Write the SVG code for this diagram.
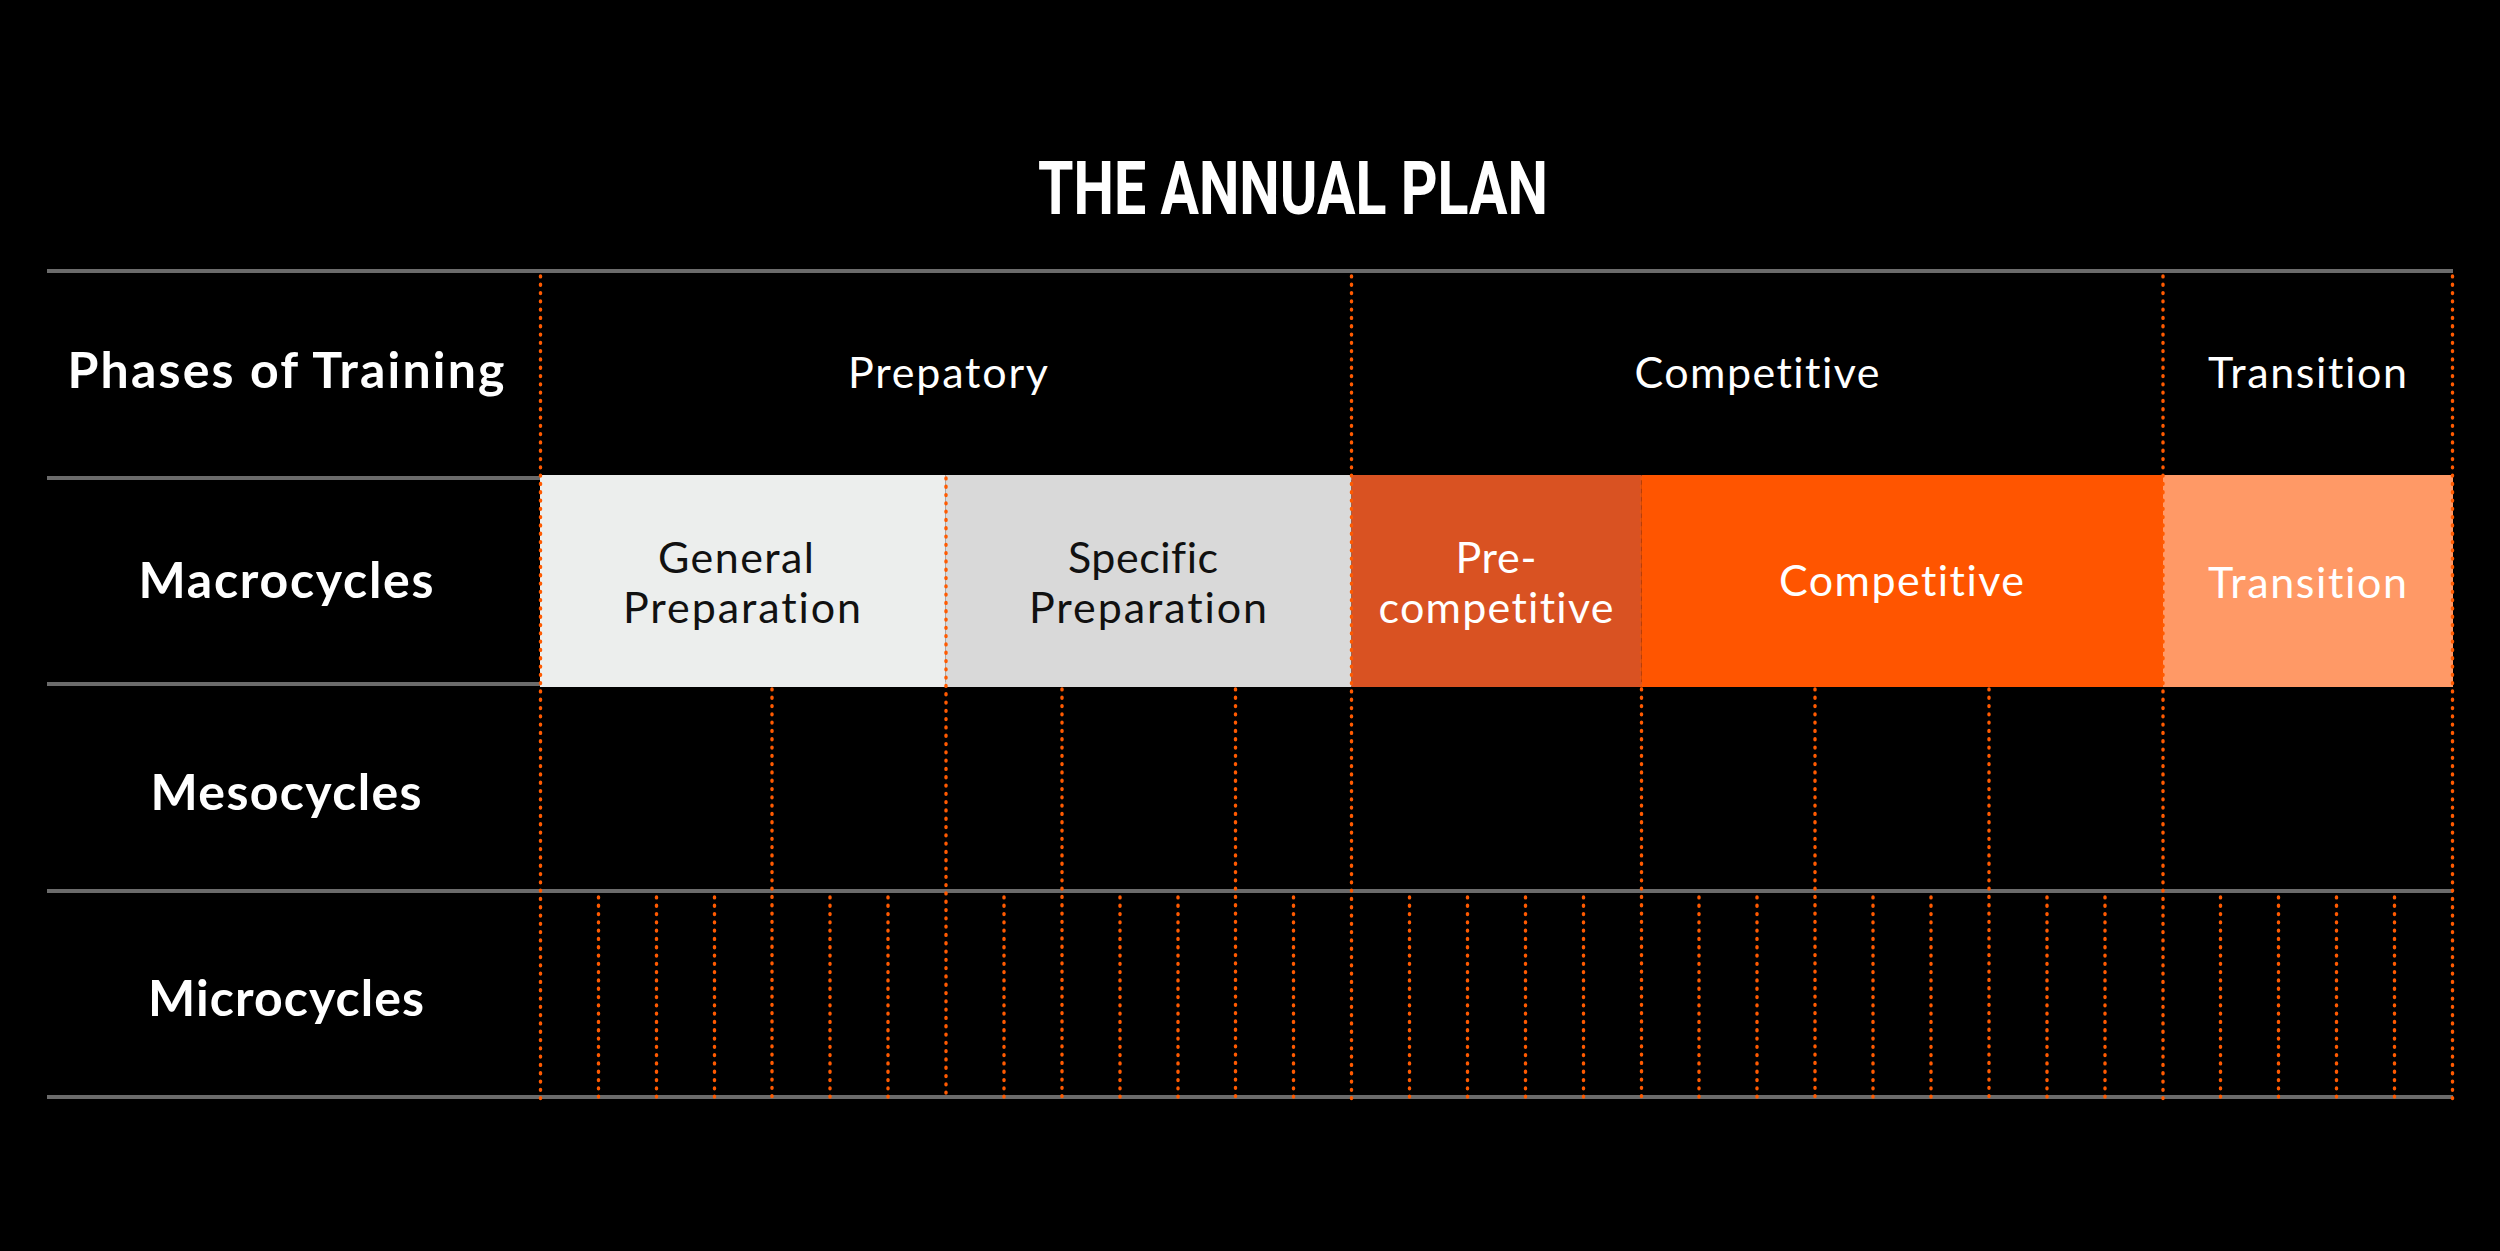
<svg xmlns="http://www.w3.org/2000/svg" width="2500" height="1251" viewBox="0 0 2500 1251">
<style>
.rule{stroke:#6b6b6b;stroke-width:4;fill:none}
.dot{stroke:#ff5a00;stroke-width:3.4;stroke-dasharray:0.9 7.4;stroke-linecap:round;fill:none}
.faint{opacity:0.45}
.title{font-family:Roboto,"Liberation Sans",sans-serif;font-weight:700;font-size:75px;fill:#fff;text-anchor:middle}
.lbl{font-family:Lato,"Noto Sans",sans-serif;font-weight:700;font-size:50px;fill:#fff;text-anchor:middle;font-variant-ligatures:none}
.txt{font-family:Lato,"Noto Sans",sans-serif;font-weight:400;font-size:43px;fill:#fff;text-anchor:middle;font-variant-ligatures:none}
.dark{fill:#111}
</style>
<rect x="0" y="0" width="2500" height="1251" fill="#000"/>
<text id="title" class="title" x="1293" y="214" textLength="510" lengthAdjust="spacingAndGlyphs">THE ANNUAL PLAN</text>

<g id="rules">
<line class="rule" x1="47" y1="271" x2="2453" y2="271"/>
<line class="rule" x1="47" y1="478" x2="2453" y2="478"/>
<line class="rule" x1="47" y1="684" x2="2453" y2="684"/>
<line class="rule" x1="47" y1="891" x2="2453" y2="891"/>
<line class="rule" x1="47" y1="1097" x2="2453" y2="1097"/>
</g>

<g id="macro-general"><rect x="540" y="475" width="405.5" height="212" fill="#eceeed"/>
<text class="txt dark" x="736" y="573" textLength="156" lengthAdjust="spacing">General</text>
<text class="txt dark" x="742" y="623" textLength="238" lengthAdjust="spacing">Preparation</text></g>
<g id="macro-specific"><rect x="945.5" y="475" width="406" height="212" fill="#d9d9d9"/>
<text class="txt dark" x="1143" y="573" textLength="150" lengthAdjust="spacing">Specific</text>
<text class="txt dark" x="1148" y="623" textLength="238" lengthAdjust="spacing">Preparation</text></g>
<g id="macro-precompetitive"><rect x="1351.5" y="475" width="290" height="212" fill="#d95222"/>
<text class="txt" x="1496" y="573" textLength="81" lengthAdjust="spacing">Pre-</text>
<text class="txt" x="1496" y="623" textLength="235" lengthAdjust="spacing">competitive</text></g>
<g id="macro-competitive"><rect x="1641.5" y="475" width="521.5" height="212" fill="#ff5500"/>
<text class="txt" x="1901.5" y="596" textLength="245" lengthAdjust="spacing">Competitive</text></g>
<g id="macro-transition"><rect x="2163" y="475" width="290" height="212" fill="#ff9966"/>
<text class="txt" x="2307.5" y="598" textLength="199" lengthAdjust="spacing">Transition</text></g>

<g id="connectors">
<g id="phase-lines">
<line class="dot" x1="540.5" y1="276" x2="540.5" y2="1099"/>
<line class="dot" x1="1351.5" y1="276" x2="1351.5" y2="1099"/>
<line class="dot" x1="2163" y1="276" x2="2163" y2="1099"/>
<line class="dot" x1="2452.5" y1="276" x2="2452.5" y2="1099"/>
</g>
<g id="macro-lines">
<line class="dot" x1="946" y1="478" x2="946" y2="1099"/>
<line class="dot faint" x1="1641.5" y1="478" x2="1641.5" y2="687"/>
<line class="dot" x1="1641.5" y1="689" x2="1641.5" y2="1099"/>
</g>
<g id="meso-lines">
<line class="dot" x1="772" y1="689" x2="772" y2="1099"/>
<line class="dot" x1="1062" y1="689" x2="1062" y2="1099"/>
<line class="dot" x1="1235.5" y1="689" x2="1235.5" y2="1099"/>
<line class="dot" x1="1815" y1="689" x2="1815" y2="1099"/>
<line class="dot" x1="1989" y1="689" x2="1989" y2="1099"/>
</g>
<g id="micro-lines">
<line class="dot" x1="598.5" y1="897" x2="598.5" y2="1099"/>
<line class="dot" x1="656.5" y1="897" x2="656.5" y2="1099"/>
<line class="dot" x1="714.5" y1="897" x2="714.5" y2="1099"/>
<line class="dot" x1="830" y1="897" x2="830" y2="1099"/>
<line class="dot" x1="888" y1="897" x2="888" y2="1099"/>
<line class="dot" x1="1004" y1="897" x2="1004" y2="1099"/>
<line class="dot" x1="1120" y1="897" x2="1120" y2="1099"/>
<line class="dot" x1="1178" y1="897" x2="1178" y2="1099"/>
<line class="dot" x1="1293.5" y1="897" x2="1293.5" y2="1099"/>
<line class="dot" x1="1409.5" y1="897" x2="1409.5" y2="1099"/>
<line class="dot" x1="1467.5" y1="897" x2="1467.5" y2="1099"/>
<line class="dot" x1="1525.5" y1="897" x2="1525.5" y2="1099"/>
<line class="dot" x1="1583.5" y1="897" x2="1583.5" y2="1099"/>
<line class="dot" x1="1699" y1="897" x2="1699" y2="1099"/>
<line class="dot" x1="1757" y1="897" x2="1757" y2="1099"/>
<line class="dot" x1="1873" y1="897" x2="1873" y2="1099"/>
<line class="dot" x1="1931" y1="897" x2="1931" y2="1099"/>
<line class="dot" x1="2047" y1="897" x2="2047" y2="1099"/>
<line class="dot" x1="2105" y1="897" x2="2105" y2="1099"/>
<line class="dot" x1="2220.5" y1="897" x2="2220.5" y2="1099"/>
<line class="dot" x1="2278.5" y1="897" x2="2278.5" y2="1099"/>
<line class="dot" x1="2336.5" y1="897" x2="2336.5" y2="1099"/>
<line class="dot" x1="2394.5" y1="897" x2="2394.5" y2="1099"/>
</g>
</g>

<g id="label-phases"><text class="lbl" x="286" y="388" textLength="437" lengthAdjust="spacing">Phases of Training</text></g>
<g id="label-macro"><text class="lbl" x="286" y="598" textLength="295" lengthAdjust="spacing">Macrocycles</text></g>
<g id="label-meso"><text class="lbl" x="286" y="810" textLength="271" lengthAdjust="spacing">Mesocycles</text></g>
<g id="label-micro"><text class="lbl" x="286" y="1016" textLength="276" lengthAdjust="spacing">Microcycles</text></g>

<g id="phase-prepatory"><text class="txt" x="948" y="388" textLength="200" lengthAdjust="spacing">Prepatory</text></g>
<g id="phase-competitive"><text class="txt" x="1757" y="388" textLength="245" lengthAdjust="spacing">Competitive</text></g>
<g id="phase-transition"><text class="txt" x="2307.5" y="388" textLength="199" lengthAdjust="spacing">Transition</text></g>
</svg>
